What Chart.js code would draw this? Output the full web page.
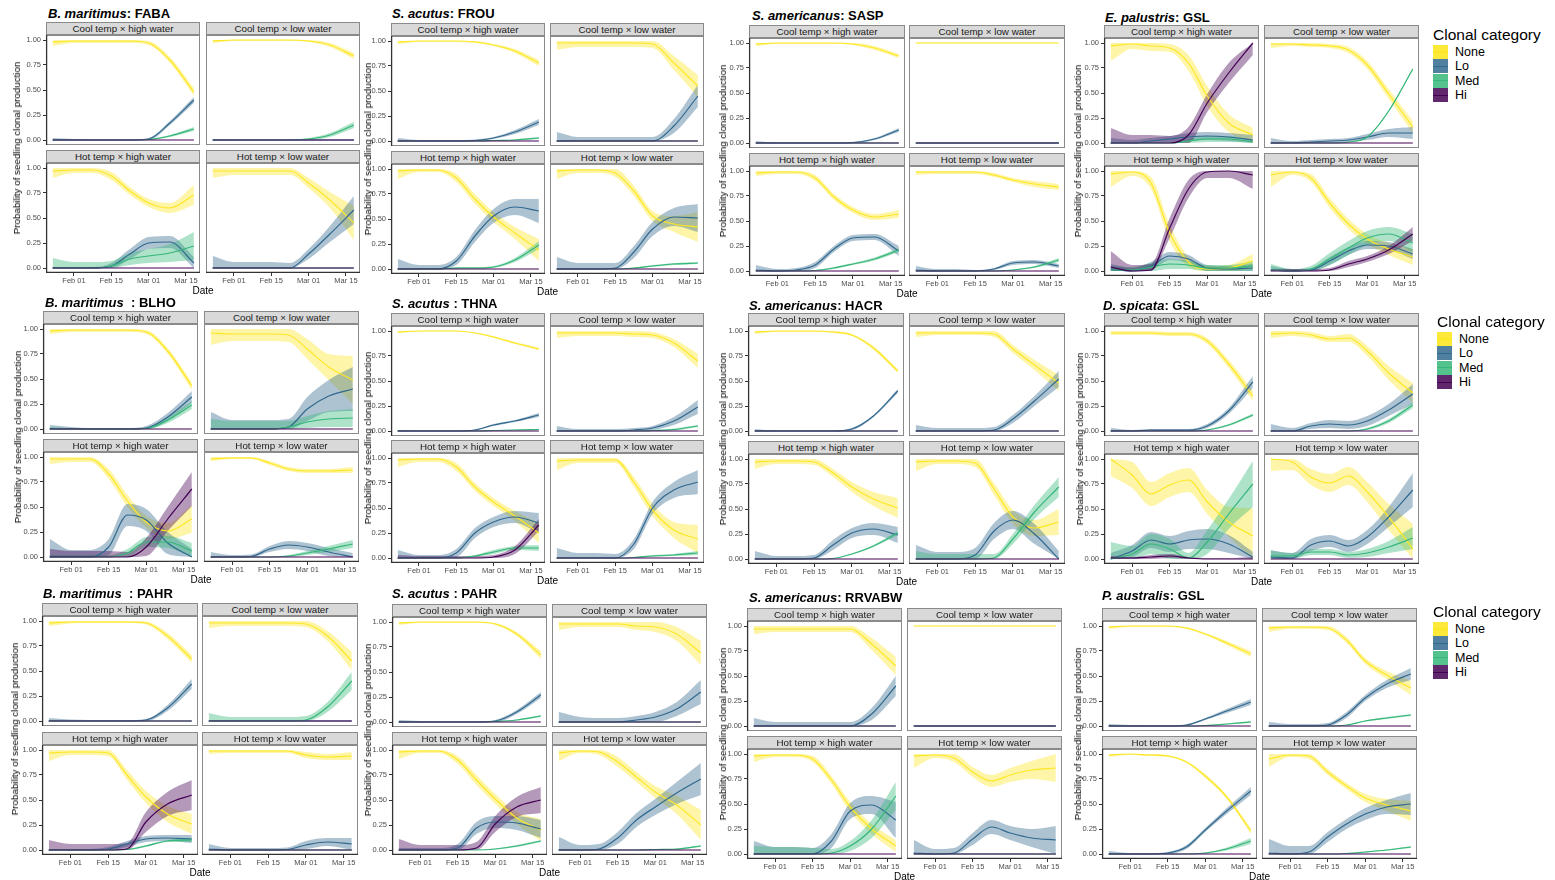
<!DOCTYPE html>
<html><head><meta charset="utf-8">
<script src="https://cdn.jsdelivr.net/npm/chart.js@4.4.0/dist/chart.umd.min.js"></script>
<style>
body{margin:0;background:#fff;width:1555px;height:880px;position:relative;overflow:hidden;font-family:"Liberation Sans",Arial,sans-serif;}
.abs{position:absolute;}
.title{font-size:13px;font-weight:bold;white-space:pre;color:#000;line-height:14px;}
.strip{background:#d9d9d9;border:1px solid #8a8a8a;box-sizing:border-box;font-size:9.8px;text-align:center;color:#1a1a1a;line-height:11px;white-space:nowrap;overflow:hidden;}
.ylab{font-size:9.8px;white-space:nowrap;transform:translate(-50%,-50%) rotate(-90deg);color:#000;line-height:10px;}
.xlab{font-size:10px;transform:translateX(-50%);color:#000;line-height:11px;}
.legt{font-size:15.5px;color:#000;white-space:nowrap;line-height:16px;}
.legl{font-size:12.5px;color:#000;line-height:14px;}
canvas{position:absolute;}
</style>
</head><body>
<script>
// ---------- axes ----------
const DAYS = [-8, 0, 7, 14, 21, 28, 36, 45];          // days from Feb 01
const TICK_DAYS = [0, 14, 28, 42];
const TICK_LABELS = ['Feb 01', 'Feb 15', 'Mar 01', 'Mar 15'];
const Y_TICKS = [0, 0.25, 0.5, 0.75, 1];
const CATEGORIES = ['None', 'Lo', 'Med', 'Hi'];
const FACETS = ['Cool temp \u00d7 high water', 'Cool temp \u00d7 low water', 'Hot temp \u00d7 high water', 'Hot temp \u00d7 low water'];
const SPECIES = ['B. maritimus','S. acutus','S. americanus','E. palustris','B. maritimus','S. acutus','S. americanus','D. spicata','B. maritimus','S. acutus','S. americanus','P. australis'];
const SEPARATORS = [': ',': ',': ',': ','  : ',' : ',': ',': ','  : ',' : ',': ',': '];
const SITES = ['FABA','FROU','SASP','GSL','BLHO','THNA','HACR','GSL','PAHR','PAHR','RRVABW','GSL'];
const Z = [0,0,0,0,0,0,0,0];
const ONE = [1,1,1,1,1,1,1,1];
const TINY = [0.005,0.005,0.005,0.005,0.005,0.005,0.005,0.005];

// ---------- values: each array = [Cool×high, Cool×low, Hot×high, Hot×low], points at DAYS ----------
// B. maritimus : FABA
const FABA_None = [[0.98,0.99,0.99,0.99,0.99,0.97,0.80,0.48],[0.99,1,1,1,1,0.99,0.95,0.84],[0.97,0.98,0.98,0.92,0.77,0.65,0.60,0.73],[0.97,0.97,0.97,0.97,0.97,0.85,0.68,0.45]];
const FABA_None_ci = [[0.04,0.02,0.02,0.02,0.02,0.02,0.03,0.04],[0.02,0.01,0.01,0.01,0.01,0.01,0.02,0.03],[0.07,0.03,0.03,0.04,0.04,0.04,0.05,0.10],[0.07,0.04,0.04,0.04,0.04,0.05,0.08,0.17]];
const FABA_Lo = [[0,0,0,0,0,0.01,0.17,0.40],Z,[0,0,0,0.02,0.14,0.25,0.26,0.05],[0,0,0,0,0,0.14,0.34,0.58]];
const FABA_Lo_ci = [[0.02,0.01,0.005,0.005,0.005,0.01,0.02,0.03],Z,[0.01,0.01,0.01,0.03,0.05,0.06,0.06,0.06],[0.12,0.06,0.06,0.06,0.05,0.05,0.08,0.14]];
const FABA_Med = [[0,0,0,0,0,0.005,0.04,0.11],[0,0,0,0,0,0.01,0.05,0.15],[0,0,0,0.02,0.09,0.12,0.15,0.22],Z];
const FABA_Med_ci = [[0,0,0,0,0,0.005,0.01,0.02],[0.01,0.005,0.005,0.005,0.005,0.01,0.02,0.03],[0.10,0.06,0.06,0.05,0.06,0.07,0.09,0.14],Z];
const FABA_Hi = [Z,Z,Z,Z];
const FABA_Hi_ci = [Z,Z,Z,Z];
// S. acutus : FROU
const FROU_None = [[0.99,1,1,1,0.99,0.96,0.90,0.78],[0.98,0.98,0.98,0.98,0.98,0.97,0.78,0.55],[0.98,0.99,0.99,0.91,0.70,0.52,0.36,0.19],[0.98,0.99,0.99,0.96,0.78,0.53,0.45,0.42]];
const FROU_None_ci = [[0.02,0.01,0.01,0.01,0.01,0.01,0.02,0.03],[0.07,0.04,0.04,0.04,0.04,0.04,0.07,0.11],[0.08,0.02,0.02,0.04,0.05,0.05,0.06,0.11],[0.08,0.03,0.03,0.04,0.05,0.05,0.08,0.15]];
const FROU_Lo = [[0,0,0,0,0.005,0.03,0.09,0.19],[0,0,0,0,0,0,0.15,0.45],[0,0,0,0.08,0.33,0.53,0.62,0.58],[0,0,0,0.01,0.17,0.40,0.52,0.51]];
const FROU_Lo_ci = [[0.03,0.01,0.01,0.01,0.01,0.01,0.02,0.03],[0.09,0.04,0.04,0.04,0.04,0.04,0.07,0.11],[0.10,0.04,0.04,0.04,0.06,0.07,0.08,0.12],[0.12,0.06,0.06,0.05,0.06,0.07,0.09,0.14]];
const FROU_Med = [[0,0,0,0,0,0.005,0.01,0.03],Z,[0,0,0,0.01,0.01,0.02,0.09,0.24],[0,0,0,0,0.01,0.03,0.05,0.06]];
const FROU_Med_ci = [[0,0,0,0,0,0,0.005,0.01],Z,[0.01,0.01,0.01,0.01,0.01,0.01,0.02,0.04],[0,0,0,0,0.005,0.01,0.01,0.01]];
const FROU_Hi = [Z,Z,Z,Z];
const FROU_Hi_ci = [Z,Z,Z,Z];
// S. americanus : SASP
const SASP_None = [[0.99,1,1,1,1,0.99,0.95,0.87],ONE,[0.98,0.99,0.99,0.93,0.74,0.61,0.54,0.57],[0.99,0.99,0.99,0.99,0.96,0.91,0.87,0.84]];
const SASP_None_ci = [[0.02,0.01,0.01,0.01,0.01,0.01,0.02,0.02],TINY,[0.03,0.02,0.02,0.03,0.03,0.03,0.03,0.04],[0.03,0.02,0.02,0.02,0.02,0.02,0.03,0.03]];
const SASP_Lo = [[0,0,0,0,0,0.005,0.04,0.13],Z,[0.01,0,0.01,0.06,0.22,0.33,0.34,0.20],[0.01,0,0,0,0.02,0.08,0.09,0.05]];
const SASP_Lo_ci = [[0.02,0.005,0.005,0.005,0.005,0.005,0.01,0.02],Z,[0.05,0.02,0.02,0.03,0.03,0.03,0.03,0.05],[0.04,0.02,0.02,0.01,0.01,0.02,0.02,0.02]];
const SASP_Med = [Z,Z,[0,0,0,0.005,0.03,0.07,0.12,0.21],[0,0,0,0,0,0.01,0.04,0.11]];
const SASP_Med_ci = [Z,Z,[0,0,0,0.005,0.01,0.01,0.015,0.02],[0,0,0,0,0,0.005,0.01,0.02]];
const SASP_Hi = [Z,Z,Z,Z];
const SASP_Hi_ci = [Z,Z,Z,Z];
// E. palustris : GSL
const EPAL_None = [[0.97,0.99,0.97,0.95,0.80,0.47,0.20,0.08],[0.99,0.99,0.98,0.97,0.93,0.78,0.49,0.16],[0.97,0.99,0.88,0.38,0.09,0.02,0.03,0.10],[0.96,0.99,0.93,0.68,0.47,0.32,0.22,0.14]];
const EPAL_None_ci = [[0.15,0.05,0.05,0.04,0.08,0.10,0.09,0.07],[0.04,0.02,0.02,0.02,0.03,0.04,0.05,0.06],[0.13,0.04,0.06,0.08,0.05,0.03,0.03,0.07],[0.12,0.03,0.04,0.05,0.05,0.05,0.06,0.08]];
const EPAL_Lo = [[0,0,0.02,0.04,0.06,0.07,0.06,0.03],[0,0,0.01,0.02,0.03,0.06,0.10,0.10],[0.02,0,0.05,0.15,0.12,0.03,0.02,0.03],[0.01,0,0.01,0.10,0.20,0.26,0.25,0.17]];
const EPAL_Lo_ci = [[0.05,0.03,0.03,0.03,0.04,0.04,0.04,0.05],[0.05,0.02,0.02,0.02,0.02,0.03,0.04,0.06],[0.05,0.03,0.04,0.04,0.04,0.03,0.03,0.04],[0.04,0.02,0.02,0.04,0.04,0.04,0.04,0.05]];
const EPAL_Med = [[0,0,0,0,0.02,0.04,0.04,0.01],[0,0,0,0,0.01,0.06,0.32,0.74],[0.01,0.01,0.04,0.07,0.06,0.03,0.03,0.05],[0.01,0,0.02,0.12,0.23,0.33,0.37,0.28]];
const EPAL_Med_ci = [[0,0,0,0,0.02,0.03,0.03,0.02],[0,0,0,0,0,0.005,0.01,0.01],[0.04,0.03,0.04,0.05,0.04,0.03,0.03,0.05],[0.06,0.02,0.03,0.06,0.07,0.07,0.07,0.09]];
const EPAL_Hi = [[0,0,0,0,0.08,0.40,0.70,1.0],Z,[0.04,0,0.01,0.43,0.82,0.99,1.0,0.96],[0,0,0,0.01,0.07,0.12,0.21,0.37]];
const EPAL_Hi_ci = [[0.15,0.08,0.08,0.07,0.08,0.09,0.10,0.12],Z,[0.16,0.06,0.06,0.10,0.09,0.06,0.07,0.14],[0.02,0.02,0.02,0.02,0.03,0.03,0.04,0.07]];
// B. maritimus : BLHO
const BLHO_None = [[0.98,0.99,0.99,0.99,0.99,0.97,0.78,0.43],[0.96,0.95,0.95,0.95,0.94,0.80,0.62,0.49],[0.98,0.98,0.98,0.83,0.56,0.35,0.26,0.38],[0.98,0.99,0.99,0.94,0.88,0.86,0.86,0.87]];
const BLHO_None_ci = [[0.03,0.02,0.02,0.02,0.02,0.02,0.03,0.04],[0.12,0.07,0.07,0.07,0.07,0.10,0.13,0.24],[0.05,0.03,0.03,0.05,0.06,0.06,0.08,0.14],[0.02,0.01,0.01,0.02,0.02,0.02,0.02,0.03]];
const BLHO_Lo = [[0,0,0,0,0,0.01,0.12,0.32],[0,0,0,0,0.02,0.20,0.33,0.40],[0,0,0,0.10,0.42,0.37,0.14,0],[0,0,0.005,0.08,0.12,0.10,0.05,0]];
const BLHO_Lo_ci = [[0.04,0.02,0.01,0.01,0.01,0.02,0.04,0.06],[0.17,0.09,0.09,0.09,0.08,0.12,0.16,0.22],[0.18,0.07,0.07,0.08,0.11,0.11,0.11,0.08],[0.05,0.02,0.02,0.03,0.04,0.04,0.04,0.04]];
const BLHO_Med = [[0,0,0,0,0,0.005,0.09,0.24],[0,0,0,0,0.02,0.07,0.10,0.11],[0,0,0,0,0.04,0.15,0.15,0.06],[0,0,0,0,0.01,0.04,0.08,0.13]];
const BLHO_Med_ci = [[0.02,0.01,0.01,0.01,0.01,0.01,0.03,0.04],[0.10,0.08,0.08,0.08,0.06,0.06,0.08,0.09],[0.02,0.02,0.02,0.02,0.04,0.05,0.06,0.08],[0,0,0,0,0.01,0.02,0.03,0.04]];
const BLHO_Hi = [Z,Z,[0,0,0,0,0,0.10,0.38,0.68],Z];
const BLHO_Hi_ci = [Z,Z,[0.08,0.06,0.06,0.06,0.05,0.09,0.12,0.17],Z];
// S. acutus : THNA
const THNA_None = [[0.99,1,1,1,0.98,0.94,0.88,0.82],[0.98,0.98,0.98,0.98,0.97,0.96,0.88,0.70],[0.98,0.99,0.99,0.91,0.71,0.56,0.42,0.25],[0.97,0.98,0.98,0.98,0.76,0.48,0.28,0.19]];
const THNA_None_ci = [[0.01,0.005,0.005,0.005,0.005,0.01,0.01,0.015],[0.05,0.03,0.03,0.03,0.03,0.03,0.04,0.07],[0.07,0.03,0.03,0.04,0.04,0.04,0.05,0.10],[0.09,0.03,0.03,0.03,0.05,0.06,0.08,0.14]];
const THNA_Lo = [[0,0,0,0,0.01,0.06,0.10,0.16],[0,0,0,0,0.01,0.03,0.10,0.24],[0,0,0,0.05,0.25,0.36,0.41,0.35],[0,0,0,0,0.14,0.50,0.68,0.76]];
const THNA_Lo_ci = [[0.01,0.005,0.005,0.005,0.005,0.01,0.01,0.02],[0.05,0.02,0.02,0.02,0.02,0.02,0.04,0.07],[0.08,0.03,0.03,0.04,0.05,0.05,0.06,0.10],[0.10,0.05,0.05,0.04,0.05,0.06,0.08,0.12]];
const THNA_Med = [[0,0,0,0,0,0.005,0.01,0.015],[0,0,0,0,0,0.005,0.015,0.05],[0,0,0,0,0.02,0.06,0.10,0.10],[0,0,0,0,0.005,0.02,0.03,0.05]];
const THNA_Med_ci = [[0,0,0,0,0,0,0.005,0.005],[0,0,0,0,0,0.005,0.01,0.01],[0.01,0.01,0.01,0.01,0.01,0.02,0.02,0.03],[0,0,0,0,0.005,0.01,0.01,0.02]];
const THNA_Hi = [Z,Z,[0,0,0,0,0,0.01,0.08,0.33],Z];
const THNA_Hi_ci = [Z,Z,[0.03,0.02,0.02,0.02,0.02,0.02,0.04,0.06],Z];
// S. americanus : HACR
const HACR_None = [[0.99,1,1,1,0.99,0.96,0.83,0.60],[0.98,0.98,0.98,0.98,0.97,0.82,0.66,0.48],[0.97,0.98,0.98,0.97,0.86,0.72,0.60,0.51],[0.97,0.98,0.98,0.96,0.70,0.42,0.31,0.37]];
const HACR_None_ci = [[0.02,0.01,0.01,0.01,0.01,0.01,0.02,0.02],[0.04,0.02,0.02,0.02,0.03,0.04,0.05,0.08],[0.07,0.03,0.03,0.03,0.04,0.05,0.07,0.10],[0.09,0.03,0.03,0.04,0.06,0.07,0.08,0.13]];
const HACR_Lo = [[0,0,0,0,0,0.02,0.15,0.40],[0,0,0,0,0.01,0.12,0.30,0.52],[0,0,0,0.01,0.14,0.26,0.30,0.24],[0,0,0,0.04,0.28,0.39,0.25,0]];
const HACR_Lo_ci = [[0.02,0.005,0.005,0.005,0.005,0.01,0.01,0.02],[0.06,0.03,0.03,0.03,0.03,0.04,0.05,0.08],[0.08,0.03,0.03,0.03,0.05,0.05,0.06,0.08],[0.14,0.07,0.07,0.07,0.08,0.09,0.10,0.08]];
const HACR_Med = [Z,Z,[0,0,0,0,0.005,0.05,0.13,0.26],[0,0,0,0,0.01,0.20,0.47,0.72]];
const HACR_Med_ci = [Z,Z,[0,0,0,0,0,0.005,0.01,0.02],[0.08,0.05,0.05,0.05,0.04,0.05,0.07,0.10]];
const HACR_Hi = [Z,Z,Z,Z];
const HACR_Hi_ci = [Z,Z,Z,Z];
// D. spicata : GSL
const DSPI_None = [[0.98,0.98,0.98,0.97,0.97,0.90,0.67,0.35],[0.97,0.98,0.96,0.92,0.93,0.80,0.58,0.38],[1.0,0.84,0.65,0.74,0.79,0.57,0.37,0.23],[1.0,0.97,0.82,0.76,0.83,0.67,0.42,0.10]];
const DSPI_None_ci = [[0.02,0.02,0.02,0.02,0.02,0.03,0.04,0.05],[0.04,0.03,0.03,0.03,0.04,0.05,0.07,0.10],[0.17,0.13,0.12,0.12,0.12,0.12,0.15,0.28],[0.12,0.08,0.08,0.09,0.09,0.10,0.13,0.25]];
const DSPI_Lo = [[0,0,0.01,0.01,0.01,0.05,0.20,0.49],[0,0,0.05,0.07,0.06,0.10,0.21,0.37],[0,0.08,0.19,0.15,0.19,0.20,0.15,0.02],[0.02,0.01,0.14,0.18,0.13,0.22,0.42,0.69]];
const DSPI_Lo_ci = [[0.03,0.01,0.01,0.01,0.01,0.02,0.03,0.06],[0.07,0.03,0.03,0.04,0.04,0.05,0.06,0.10],[0.06,0.06,0.08,0.08,0.09,0.10,0.09,0.05],[0.07,0.05,0.06,0.06,0.06,0.07,0.10,0.17]];
const DSPI_Med = [[0,0,0,0,0,0.01,0.06,0.16],[0,0,0,0,0,0.02,0.10,0.26],[0,0.05,0.15,0.10,0.01,0.17,0.45,0.75],[0.03,0.03,0.07,0.07,0.04,0.06,0.12,0.21]];
const DSPI_Med_ci = [[0,0,0,0,0,0.005,0.01,0.015],[0,0,0,0,0,0.01,0.02,0.03],[0.17,0.08,0.10,0.10,0.05,0.12,0.15,0.23],[0.05,0.03,0.03,0.03,0.03,0.04,0.06,0.11]];
const DSPI_Hi = [Z,Z,[0.01,0.01,0.02,0.03,0.01,0,0,0],Z];
const DSPI_Hi_ci = [Z,Z,[0.02,0.01,0.02,0.02,0.01,0.01,0.01,0.02],Z];
// B. maritimus : PAHR
const BMPA_None = [[0.98,0.99,0.99,0.99,0.99,0.98,0.85,0.62],[0.98,0.98,0.98,0.98,0.98,0.97,0.85,0.60],[0.97,0.98,0.98,0.97,0.75,0.53,0.36,0.26],[0.99,0.99,0.99,0.99,0.99,0.95,0.93,0.94]];
const BMPA_None_ci = [[0.03,0.015,0.01,0.01,0.01,0.015,0.03,0.04],[0.05,0.03,0.03,0.03,0.03,0.03,0.05,0.09],[0.08,0.03,0.03,0.03,0.05,0.06,0.08,0.10],[0.03,0.02,0.02,0.02,0.02,0.03,0.03,0.04]];
const BMPA_Lo = [[0,0,0,0,0,0.01,0.13,0.37],Z,[0,0,0,0.01,0.06,0.11,0.12,0.11],[0.01,0,0,0,0.005,0.05,0.08,0.06]];
const BMPA_Lo_ci = [[0.03,0.015,0.01,0.01,0.01,0.01,0.03,0.05],Z,[0.01,0.01,0.01,0.02,0.03,0.03,0.03,0.04],[0.05,0.02,0.02,0.02,0.02,0.04,0.04,0.06]];
const BMPA_Med = [Z,[0,0,0,0,0,0.01,0.14,0.40],[0,0,0,0,0.005,0.04,0.09,0.10],Z];
const BMPA_Med_ci = [Z,[0.08,0.04,0.04,0.04,0.04,0.04,0.05,0.09],[0,0,0,0,0.005,0.01,0.01,0.02],Z];
const BMPA_Hi = [Z,Z,[0,0,0,0,0.01,0.28,0.46,0.55],Z];
const BMPA_Hi_ci = [Z,Z,[0.10,0.06,0.06,0.06,0.06,0.10,0.12,0.15],Z];
// S. acutus : PAHR
const SAPA_None = [[0.99,1,1,1,1,0.98,0.88,0.67],[0.98,0.98,0.98,0.98,0.96,0.95,0.88,0.69],[0.98,0.99,0.99,0.90,0.70,0.51,0.32,0.20],[0.97,0.99,0.98,0.88,0.73,0.58,0.45,0.25]];
const SAPA_None_ci = [[0.02,0.01,0.01,0.01,0.01,0.01,0.02,0.04],[0.06,0.03,0.03,0.03,0.04,0.05,0.07,0.12],[0.07,0.02,0.02,0.04,0.05,0.05,0.06,0.11],[0.08,0.02,0.03,0.05,0.05,0.06,0.09,0.15]];
const SAPA_Lo = [[0,0,0,0,0,0.01,0.10,0.27],[0,0,0,0,0.02,0.05,0.13,0.30],[0,0,0,0.02,0.22,0.28,0.27,0.21],[0,0,0.01,0.12,0.30,0.43,0.57,0.71]];
const SAPA_Lo_ci = [[0.02,0.01,0.005,0.005,0.005,0.01,0.02,0.03],[0.10,0.05,0.04,0.04,0.04,0.05,0.07,0.12],[0.02,0.02,0.02,0.04,0.06,0.06,0.07,0.09],[0.13,0.05,0.05,0.06,0.07,0.08,0.11,0.16]];
const SAPA_Med = [[0,0,0,0,0,0.005,0.02,0.06],Z,[0,0,0,0,0,0.01,0.04,0.09],[0,0,0,0,0,0.005,0.01,0.04]];
const SAPA_Med_ci = [[0,0,0,0,0,0,0.005,0.01],Z,[0,0,0,0,0,0.005,0.01,0.01],[0,0,0,0,0,0,0.005,0.01]];
const SAPA_Hi = [Z,Z,[0,0,0,0,0.02,0.26,0.43,0.50],Z];
const SAPA_Hi_ci = [Z,Z,[0.11,0.05,0.05,0.05,0.06,0.08,0.10,0.13],Z];
// S. americanus : RRVABW
const RRVA_None = [[0.97,0.97,0.97,0.97,0.97,0.97,0.82,0.60],ONE,[0.98,0.99,0.99,0.95,0.74,0.47,0.25,0.08],[0.98,0.99,0.96,0.82,0.73,0.79,0.84,0.86]];
const RRVA_None_ci = [[0.05,0.03,0.03,0.03,0.03,0.03,0.06,0.09],TINY,[0.06,0.02,0.02,0.03,0.04,0.05,0.05,0.06],[0.12,0.03,0.04,0.05,0.06,0.07,0.09,0.14]];
const RRVA_Lo = [[0,0,0,0,0,0,0.12,0.40],Z,[0,0,0,0,0.13,0.43,0.49,0.34],[0.01,0,0.01,0.15,0.27,0.21,0.16,0.14]];
const RRVA_Lo_ci = [[0.08,0.04,0.04,0.04,0.04,0.04,0.06,0.10],Z,[0.13,0.07,0.07,0.06,0.07,0.08,0.09,0.18],[0.13,0.05,0.05,0.06,0.07,0.07,0.09,0.14]];
const RRVA_Med = [Z,Z,[0,0,0,0,0.01,0.08,0.25,0.58],Z];
const RRVA_Med_ci = [Z,Z,[0.08,0.07,0.07,0.06,0.04,0.05,0.09,0.14],Z];
const RRVA_Hi = [Z,Z,Z,Z];
const RRVA_Hi_ci = [Z,Z,Z,Z];
// P. australis : GSL
const PAUS_None = [[0.99,1,1,1,0.98,0.92,0.83,0.72],[0.98,0.99,0.99,0.98,0.86,0.65,0.51,0.38],[0.99,1,0.99,0.98,0.92,0.78,0.57,0.23],[0.95,0.99,0.98,0.82,0.68,0.56,0.49,0.43]];
const PAUS_None_ci = [[0.02,0.01,0.01,0.01,0.01,0.01,0.02,0.03],[0.04,0.02,0.02,0.02,0.03,0.03,0.04,0.07],[0.02,0.01,0.01,0.01,0.01,0.02,0.02,0.03],[0.08,0.02,0.03,0.03,0.03,0.04,0.06,0.10]];
const PAUS_Lo = [[0,0,0,0,0.01,0.07,0.15,0.24],[0,0,0,0.01,0.11,0.28,0.42,0.52],[0,0,0,0.01,0.07,0.24,0.43,0.63],[0.01,0,0.02,0.17,0.30,0.40,0.47,0.50]];
const PAUS_Lo_ci = [[0.02,0.01,0.005,0.005,0.005,0.01,0.02,0.03],[0.04,0.02,0.02,0.02,0.03,0.03,0.04,0.06],[0.03,0.01,0.01,0.01,0.02,0.02,0.03,0.04],[0.14,0.08,0.06,0.05,0.05,0.06,0.07,0.11]];
const PAUS_Med = [[0,0,0,0,0,0.005,0.02,0.04],[0,0,0,0,0.01,0.05,0.08,0.11],[0,0,0,0,0,0.01,0.05,0.13],[0,0,0,0,0.005,0.02,0.04,0.07]];
const PAUS_Med_ci = [[0,0,0,0,0,0,0.005,0.01],[0,0,0,0,0,0.005,0.01,0.01],[0,0,0,0,0,0.005,0.015,0.03],[0,0,0,0,0,0.005,0.005,0.01]];
const PAUS_Hi = [Z,Z,Z,Z];
const PAUS_Hi_ci = [Z,Z,Z,Z];

// ---------- tables built from the arrays above ----------
const GROUP_MID = [
  [FABA_None,FABA_Lo,FABA_Med,FABA_Hi],[FROU_None,FROU_Lo,FROU_Med,FROU_Hi],[SASP_None,SASP_Lo,SASP_Med,SASP_Hi],[EPAL_None,EPAL_Lo,EPAL_Med,EPAL_Hi],
  [BLHO_None,BLHO_Lo,BLHO_Med,BLHO_Hi],[THNA_None,THNA_Lo,THNA_Med,THNA_Hi],[HACR_None,HACR_Lo,HACR_Med,HACR_Hi],[DSPI_None,DSPI_Lo,DSPI_Med,DSPI_Hi],
  [BMPA_None,BMPA_Lo,BMPA_Med,BMPA_Hi],[SAPA_None,SAPA_Lo,SAPA_Med,SAPA_Hi],[RRVA_None,RRVA_Lo,RRVA_Med,RRVA_Hi],[PAUS_None,PAUS_Lo,PAUS_Med,PAUS_Hi]];
const GROUP_CI = [
  [FABA_None_ci,FABA_Lo_ci,FABA_Med_ci,FABA_Hi_ci],[FROU_None_ci,FROU_Lo_ci,FROU_Med_ci,FROU_Hi_ci],[SASP_None_ci,SASP_Lo_ci,SASP_Med_ci,SASP_Hi_ci],[EPAL_None_ci,EPAL_Lo_ci,EPAL_Med_ci,EPAL_Hi_ci],
  [BLHO_None_ci,BLHO_Lo_ci,BLHO_Med_ci,BLHO_Hi_ci],[THNA_None_ci,THNA_Lo_ci,THNA_Med_ci,THNA_Hi_ci],[HACR_None_ci,HACR_Lo_ci,HACR_Med_ci,HACR_Hi_ci],[DSPI_None_ci,DSPI_Lo_ci,DSPI_Med_ci,DSPI_Hi_ci],
  [BMPA_None_ci,BMPA_Lo_ci,BMPA_Med_ci,BMPA_Hi_ci],[SAPA_None_ci,SAPA_Lo_ci,SAPA_Med_ci,SAPA_Hi_ci],[RRVA_None_ci,RRVA_Lo_ci,RRVA_Med_ci,RRVA_Hi_ci],[PAUS_None_ci,PAUS_Lo_ci,PAUS_Med_ci,PAUS_Hi_ci]];

// ---------- style ----------
const CAT_LINE = ['#FDE725','#31688E','#35B779','#440154'];
const CAT_BAND = ['rgba(253,231,37,0.4)','rgba(49,104,142,0.4)','rgba(53,183,121,0.4)','rgba(68,1,84,0.4)'];
const CAT_KEY = ['rgba(253,231,37,0.9)','rgba(49,104,142,0.85)','rgba(53,183,121,0.85)','rgba(68,1,84,0.85)'];

// ---------- layout (pixels) ----------
const LAY_L  = [46,391,749,1104, 43,391,748,1104, 42,392,747,1102];
const LAY_R  = [206,550,909,1264, 204,550,909,1264, 202,552,907,1262];
const LAY_W  = [154,154,156,155, 155,154,156,155, 156,155,155,155];
const LAY_S1 = [22,23,25,25, 311,313,313,313, 603,604,608,608];
const LAY_S2 = [150,151,153,153, 439,440,441,441, 732,732,736,736];
const LAY_YLX= [17,368,723,1078, 18,368,723,1080, 15,368,723,1078];
const LAY_TX = [48,392,752,1105, 45,392,749,1103, 43,392,749,1102];
const LAY_TY = [7,7,9,11, 296,297,299,299, 587,587,591,589];
const LEG_X = [1433,1437,1433];
const LEG_TY = [27,314,604];
const LEG_KY = [45,332,622];
const STRIP_H = 13, PANEL_H = 110, YAXIS_W = 30, XAXIS_H = 14;
const XMIN = -10.5, XMAX = 47.3, YMIN = -0.05, YMAX = 1.05;

function el(cls, x, y, html, extra){
  const d = document.createElement('div');
  d.className = 'abs ' + cls; d.style.left = x + 'px'; d.style.top = y + 'px';
  if (extra) Object.assign(d.style, extra);
  d.innerHTML = html; document.body.appendChild(d); return d;
}

const panelBorder = {
  id: 'panelBorder',
  afterDraw(chart, args, opts) {
    const {ctx, chartArea: a} = chart;
    ctx.save();
    ctx.strokeStyle = '#8a8a8a'; ctx.lineWidth = 1;
    ctx.strokeRect(a.left + 0.5, a.top + 0.5, a.right - a.left - 1, a.bottom - a.top - 1);
    ctx.strokeStyle = '#333'; ctx.lineWidth = 1.3;
    if (opts.left) { ctx.beginPath(); ctx.moveTo(a.left + 0.6, a.top); ctx.lineTo(a.left + 0.6, a.bottom); ctx.stroke(); }
    if (opts.bottom) { ctx.beginPath(); ctx.moveTo(a.left, a.bottom - 0.6); ctx.lineTo(a.right, a.bottom - 0.6); ctx.stroke(); }
    ctx.restore();
  }
};

function facet(g, f) {
  const col = f % 2, row = Math.floor(f / 2);
  const showY = col === 0, showX = row === 1;
  const pLeft = col === 0 ? LAY_L[g] : LAY_R[g];
  const sTop = row === 0 ? LAY_S1[g] : LAY_S2[g];
  const w = LAY_W[g];
  el('strip', pLeft, sTop, FACETS[f], {width: w + 'px', height: STRIP_H + 'px'});
  const cv = document.createElement('canvas');
  const cw = w + (showY ? YAXIS_W : 0), ch = PANEL_H + (showX ? XAXIS_H : 0);
  cv.width = cw; cv.height = ch;
  cv.style.left = (pLeft - (showY ? YAXIS_W : 0)) + 'px';
  cv.style.top = (sTop + STRIP_H) + 'px';
  cv.style.width = cw + 'px'; cv.style.height = ch + 'px';
  document.body.appendChild(cv);

  const datasets = [];
  for (let c = 0; c < 4; c++) {
    const mid = GROUP_MID[g][c][f], ci = GROUP_CI[g][c][f];
    datasets.push({data: mid.map((v, i) => ({x: DAYS[i], y: Math.min(1, v + ci[i])})),
      borderWidth: 0, borderColor: 'rgba(0,0,0,0)', pointRadius: 0, fill: false, order: 20 - c, cubicInterpolationMode: 'monotone'});
    datasets.push({data: mid.map((v, i) => ({x: DAYS[i], y: Math.max(0, v - ci[i])})),
      borderWidth: 0, borderColor: 'rgba(0,0,0,0)', pointRadius: 0, fill: '-1', backgroundColor: CAT_BAND[c], order: 20 - c, cubicInterpolationMode: 'monotone'});
  }
  for (let c = 0; c < 4; c++) {
    const mid = GROUP_MID[g][c][f];
    datasets.push({label: CATEGORIES[c], data: mid.map((v, i) => ({x: DAYS[i], y: v})),
      borderColor: CAT_LINE[c], borderWidth: 1.2, pointRadius: 0, fill: false, order: 4 - c, cubicInterpolationMode: 'monotone'});
  }
  const tickFont = {family: '"Liberation Sans", Arial, sans-serif', size: 7.5};
  new Chart(cv, {
    type: 'line',
    data: {datasets},
    plugins: [panelBorder],
    options: {
      responsive: false, animation: false, devicePixelRatio: 1,
      layout: {padding: 0},
      plugins: {legend: {display: false}, tooltip: {enabled: false}, panelBorder: {left: showY, bottom: showX}},
      scales: {
        x: {type: 'linear', min: XMIN, max: XMAX, display: showX,
          afterBuildTicks: s => { s.ticks = TICK_DAYS.map(v => ({value: v})); },
          afterFit: s => { s.height = showX ? XAXIS_H : 0; s.paddingLeft = 0; s.paddingRight = 0; },
          grid: {display: true, drawOnChartArea: false, drawTicks: true, tickLength: 3, color: '#333'},
          border: {display: false},
          ticks: {font: tickFont, color: '#4d4d4d', padding: 0, maxRotation: 0, autoSkip: false, callback: (v, i) => TICK_LABELS[i]}},
        y: {type: 'linear', min: YMIN, max: YMAX, display: showY,
          afterBuildTicks: s => { s.ticks = Y_TICKS.map(v => ({value: v})); },
          afterFit: s => { s.width = showY ? YAXIS_W : 0; s.paddingTop = 0; s.paddingBottom = 0; },
          grid: {display: true, drawOnChartArea: false, drawTicks: true, tickLength: 3, color: '#333'},
          border: {display: false},
          ticks: {font: tickFont, color: '#4d4d4d', padding: 2, callback: v => Number(v).toFixed(2)}}
      }
    }
  });
}

for (let g = 0; g < 12; g++) {
  el('title', LAY_TX[g], LAY_TY[g], '<i>' + SPECIES[g] + '</i>' + SEPARATORS[g] + SITES[g]);
  for (let f = 0; f < 4; f++) facet(g, f);
  const bottom = LAY_S2[g] + STRIP_H + PANEL_H;
  el('ylab', LAY_YLX[g], (LAY_S1[g] + bottom) / 2, 'Probability of seedling clonal production');
  el('xlab', (LAY_L[g] + LAY_R[g] + LAY_W[g]) / 2, bottom + 12, 'Date');
}

for (let k = 0; k < 3; k++) {
  el('legt', LEG_X[k], LEG_TY[k], 'Clonal category');
  for (let c = 0; c < 4; c++) {
    const y = LEG_KY[k] + c * 14.4;
    el('', LEG_X[k], y, '', {width: '15px', height: '14px', background: CAT_KEY[c]});
    el('', LEG_X[k], y + 6.3, '', {width: '15px', height: '1.4px', background: CAT_LINE[c]});
    el('legl', LEG_X[k] + 22, y, CATEGORIES[c]);
  }
}
</script>
</body></html>
